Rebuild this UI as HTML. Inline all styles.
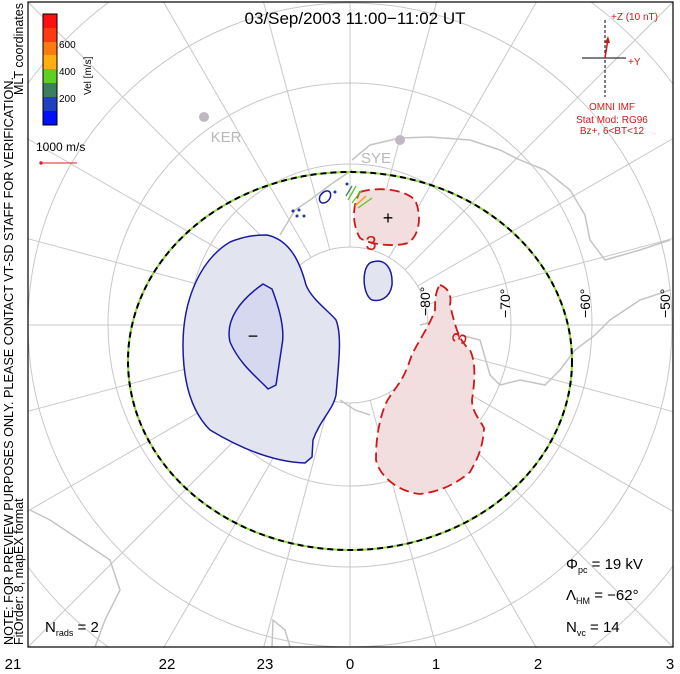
<!DOCTYPE html>
<html><head><meta charset="utf-8"><style>
html,body{margin:0;padding:0;background:#fff;width:680px;height:674px;overflow:hidden;}
svg{display:block;font-family:"Liberation Sans","DejaVu Sans",sans-serif;}
</style></head><body>
<svg width="680" height="674" viewBox="0 0 680 674" xmlns="http://www.w3.org/2000/svg">
<rect width="680" height="674" fill="#fff"/>
<g>
 <g fill="none" stroke="#c8c8c8" stroke-width="1">
  <circle cx="350" cy="325" r="78"/>
  <circle cx="350" cy="325" r="161"/>
  <circle cx="350" cy="325" r="242"/>
  <circle cx="350" cy="325" r="322"/>
  <path d="M28 83 A403 403 0 0 1 109 2 M591 2 A403 403 0 0 1 673 84 M673 566 A403 403 0 0 1 592 647 M108 647 A403 403 0 0 1 28 567"/>
  <line x1="350" y1="247" x2="350" y2="2"/>
  <line x1="350" y1="403" x2="350" y2="647"/>
  <line x1="272" y1="325" x2="28" y2="325"/>
  <line x1="428" y1="325" x2="673" y2="325"/>
  <g transform="rotate(15 350 325)"><line x1="350" y1="247" x2="350" y2="-9"/><line x1="350" y1="403" x2="350" y2="659"/></g>
  <g transform="rotate(-15 350 325)"><line x1="350" y1="247" x2="350" y2="-9"/><line x1="350" y1="403" x2="350" y2="659"/></g>
  <g transform="rotate(75 350 325)"><line x1="350" y1="247" x2="350" y2="-9"/><line x1="350" y1="403" x2="350" y2="659"/></g>
  <g transform="rotate(-75 350 325)"><line x1="350" y1="247" x2="350" y2="-9"/><line x1="350" y1="403" x2="350" y2="659"/></g>
  <g transform="rotate(30 350 325)"><line x1="350" y1="247" x2="350" y2="-48"/><line x1="350" y1="403" x2="350" y2="698"/></g>
  <g transform="rotate(-30 350 325)"><line x1="350" y1="247" x2="350" y2="-48"/><line x1="350" y1="403" x2="350" y2="698"/></g>
  <g transform="rotate(60 350 325)"><line x1="350" y1="247" x2="350" y2="-48"/><line x1="350" y1="403" x2="350" y2="698"/></g>
  <g transform="rotate(-60 350 325)"><line x1="350" y1="247" x2="350" y2="-48"/><line x1="350" y1="403" x2="350" y2="698"/></g>
  <line x1="295" y1="270" x2="28" y2="2"/>
  <line x1="405" y1="270" x2="673" y2="2"/>
  <line x1="295" y1="380" x2="28" y2="647"/>
  <line x1="405" y1="380" x2="673" y2="647"/>
 </g>
 <g fill="none" stroke="#c4c4c4" stroke-width="1.5">
  <path d="M352 160 L370 145 L400 138 L430 137 L470 140 L500 150 L520 160 L545 170 L570 190 L585 215 L590 240 L605 260 L640 250 L670 240"/>
  <path d="M420 325 L440 320 L460 335 L480 340 L490 375 L500 385 L520 380 L545 385 L560 370 L575 350 L595 335 L610 320 L640 300 L670 290"/>
  <path d="M340 400 L355 410 L370 415"/>
  <path d="M280 235 L295 210 L310 200 L330 185 L352 170"/>
  <path d="M30 510 L50 520 L80 540 L110 560 L120 590 L105 620 L95 647"/>
  <path d="M272 647 L273 620 L285 630 L290 647"/>
 </g>
 <text x="226" y="142" font-size="15" fill="#b8b8b8" text-anchor="middle">KER</text>
 <text x="376" y="163" font-size="15" fill="#b8b8b8" text-anchor="middle">SYE</text>
 <circle cx="204" cy="117" r="5" fill="#c0b8c0"/>
 <circle cx="400" cy="140" r="5" fill="#c0b8c0"/>
 <path d="M267 235 C290 240 300 262 306 285 C312 300 330 312 336 320 C342 335 339 360 336 395 C333 410 320 420 313 440 L312 457 L305 463 C270 462 235 445 210 430 C190 410 183 380 183 345 C183 300 200 260 230 242 C245 236 255 235 267 235 Z" fill="#e2e4f0" stroke="#1a1aa0" stroke-width="1.5"/>
 <path d="M263 284 L272 289 C280 310 285 330 282 345 L276 385 L268 389 C258 378 240 365 230 342 C225 320 240 300 263 284 Z" fill="#d6d8f0" stroke="#1a1aa0" stroke-width="1.5"/>
 <text x="253" y="342" font-size="18" text-anchor="middle" fill="#000">−</text>
 <path d="M372 262 C385 258 393 268 392 285 C390 298 380 302 372 300 C362 295 361 265 372 262 Z" fill="#e2e4f0" stroke="#1a1aa0" stroke-width="1.5"/>
 <path d="M320 196 C325 188 333 190 330 198 C327 205 317 205 320 196 Z" fill="none" stroke="#1a1aa0" stroke-width="1.5"/>
 <g fill="#1a3aa0"><circle cx="293" cy="211" r="1.5"/><circle cx="299" cy="210" r="1.5"/><circle cx="297" cy="216" r="1.5"/><circle cx="304" cy="216" r="1.5"/><circle cx="335" cy="192" r="1.5"/><circle cx="347" cy="184" r="1.5"/></g>
 <path d="M360 192 C380 186 405 190 415 200 C422 215 420 235 408 243 C395 247 370 245 360 238 C352 225 352 205 360 192 Z" fill="#f2dede" stroke="#d01818" stroke-width="1.8" stroke-dasharray="10 5"/>
 <path d="M440 285 C448 288 452 295 450 305 C455 325 458 340 470 350 C476 362 475 380 472 400 C472 412 480 420 484 428 C483 448 477 460 470 472 C455 485 438 492 420 494 C400 492 380 478 376 460 C376 440 378 425 385 405 C392 390 402 385 410 360 C415 345 428 330 435 310 C435 298 436 290 440 285 Z" fill="#f2dede" stroke="#d01818" stroke-width="1.8" stroke-dasharray="10 5"/>
 <text x="388" y="224" font-size="18" text-anchor="middle" fill="#000">+</text>
 <text x="371" y="250" font-size="20" fill="#d01818" text-anchor="middle">3</text>
 <text x="466" y="340" font-size="20" fill="#d01818" text-anchor="middle" transform="rotate(-75 466 340)">3</text>
 <g stroke-width="1.3">
  <line x1="348" y1="200" x2="356" y2="186" stroke="#58c820"/>
  <line x1="352" y1="203" x2="362" y2="190" stroke="#58c820"/>
  <line x1="355" y1="206" x2="366" y2="196" stroke="#f0a000"/>
  <line x1="358" y1="208" x2="372" y2="198" stroke="#58c820"/>
  <line x1="346" y1="196" x2="352" y2="186" stroke="#408070"/>
 </g>
 <ellipse cx="350" cy="361" rx="222" ry="189" fill="none" stroke="#90d840" stroke-width="2"/>
 <ellipse cx="350" cy="361" rx="222" ry="189" fill="none" stroke="#000" stroke-width="2" stroke-dasharray="6 4"/>
 <g font-size="14" fill="#000">
  <text transform="translate(430 316) rotate(-90)">−80°</text>
  <text transform="translate(510 318) rotate(-90)">−70°</text>
  <text transform="translate(590 318) rotate(-90)">−60°</text>
  <text transform="translate(670 318) rotate(-90)">−50°</text>
 </g>
</g>
<rect x="28" y="2" width="645" height="645" fill="none" stroke="#000" stroke-width="1.2"/>
<text x="355" y="24" font-size="17" text-anchor="middle" fill="#000">03/Sep/2003 11:00−11:02 UT</text>
<g>
 <rect x="43" y="14" width="14" height="14" fill="#ff1010"/>
 <rect x="43" y="28" width="14" height="14" fill="#ff3a10"/>
 <rect x="43" y="42" width="14" height="13" fill="#ff7a10"/>
 <rect x="43" y="55" width="14" height="14" fill="#ffb010"/>
 <rect x="43" y="69" width="14" height="14" fill="#60d020"/>
 <rect x="43" y="83" width="14" height="14" fill="#3a8060"/>
 <rect x="43" y="97" width="14" height="14" fill="#2040c0"/>
 <rect x="43" y="111" width="14" height="14" fill="#0010ff"/>
 <rect x="43" y="14" width="14" height="111" fill="none" stroke="#000" stroke-width="1"/>
 <g font-size="10" fill="#000"><text x="59" y="48">600</text><text x="59" y="75">400</text><text x="59" y="102">200</text></g>
 <text transform="translate(91 95) rotate(-90)" font-size="10" fill="#000">Vel [m/s]</text>
</g>
<text x="36" y="151" font-size="12" fill="#000">1000 m/s</text>
<line x1="41" y1="163" x2="77" y2="163" stroke="#e02020" stroke-width="1"/>
<circle cx="41" cy="163" r="1.7" fill="#e02020"/>
<text transform="translate(13 645) rotate(-90)" font-size="12.5" fill="#000" textLength="568" lengthAdjust="spacingAndGlyphs">NOTE: FOR PREVIEW PURPOSES ONLY. PLEASE CONTACT VT-SD STAFF FOR VERIFICATION.</text>
<text transform="translate(23 645) rotate(-90)" font-size="12.5" fill="#000">FitOrder: 8, mapEX format</text>
<text transform="translate(23 95) rotate(-90)" font-size="12.5" fill="#000">MLT coordinates</text>
<g stroke="#000" stroke-width="1">
 <line x1="605" y1="20" x2="605" y2="97" stroke-dasharray="3 2"/>
 <line x1="582" y1="58" x2="626" y2="58"/>
</g>
<line x1="605" y1="58" x2="608" y2="39" stroke="#d01818" stroke-width="1.5"/>
<path d="M608 36 L605 43 L610 43 Z" fill="#d01818"/>
<g font-size="10" fill="#d01818">
 <text x="611" y="20">+Z (10 nT)</text>
 <text x="628" y="65">+Y</text>
 <text x="612" y="110" text-anchor="middle">OMNI IMF</text>
 <text x="612" y="123" text-anchor="middle">Stat Mod: RG96</text>
 <text x="612" y="134" text-anchor="middle">Bz+, 6&lt;BT&lt;12</text>
</g>
<g font-size="15" fill="#000">
 <text x="566" y="569">Φ<tspan font-size="9" dy="4">pc</tspan><tspan dy="-4"> = 19 kV</tspan></text>
 <text x="566" y="600">Λ<tspan font-size="9" dy="4">HM</tspan><tspan dy="-4"> = −62°</tspan></text>
 <text x="566" y="632">N<tspan font-size="9" dy="4">vc</tspan><tspan dy="-4"> = 14</tspan></text>
 <text x="45" y="632">N<tspan font-size="9" dy="4">rads</tspan><tspan dy="-4"> = 2</tspan></text>
</g>
<g font-size="15" fill="#000" text-anchor="middle">
 <text x="13" y="669">21</text><text x="167" y="669">22</text><text x="265" y="669">23</text>
 <text x="350" y="669">0</text><text x="436" y="669">1</text><text x="538" y="669">2</text><text x="670" y="669">3</text>
</g>
</svg>
</body></html>
